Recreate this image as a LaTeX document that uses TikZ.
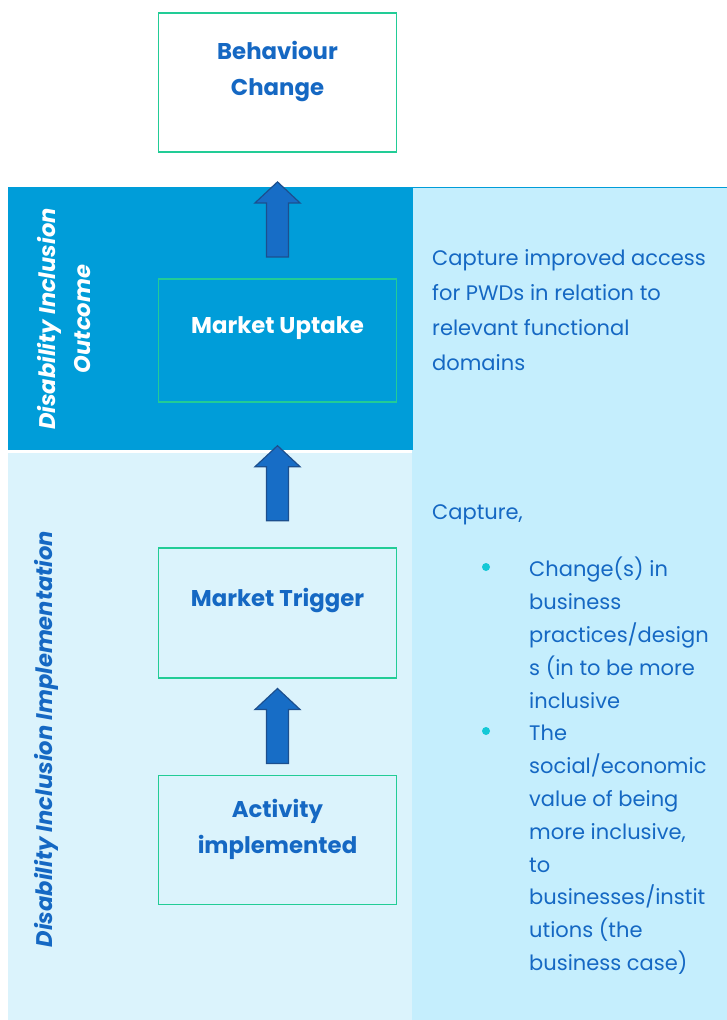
\documentclass[tikz,border=0pt]{standalone}
\usepackage{fontspec}
\setmainfont{Poppins}
\usetikzlibrary{positioning,calc}

\definecolor{bandDark}{HTML}{009DD9}
\definecolor{bandLight}{HTML}{DBF3FC}
\definecolor{panelBlue}{HTML}{C5EEFD}
\definecolor{boxGreen}{HTML}{22CC96}
\definecolor{textBlue}{HTML}{1568C3}
\definecolor{arrowBlue}{HTML}{176DC6}
\definecolor{arrowEdge}{HTML}{1C4F8E}
\definecolor{bulletCyan}{HTML}{14C8D6}

\begin{document}
\begin{tikzpicture}[x=1pt,y=-1pt,
stage/.style={rectangle, draw=boxGreen, line width=1.8pt,
  minimum width=238pt, inner sep=0pt},
stagetext/.style={font=\fontsize{22.8}{36}\selectfont\bfseries,
  text=textBlue, align=center},
sidetext/.style={rotate=90, font=\fontsize{22.6}{35}\selectfont\bfseries\itshape,
  text=white, align=center, inner sep=0pt},
notetext/.style={font=\fontsize{21}{35}\selectfont, text=textBlue,
  align=left, inner sep=0pt, anchor=north west},
bulletdot/.style={circle, fill=bulletCyan, minimum size=8pt, inner sep=0pt},
uparrow/.pic={
  \draw[fill=arrowBlue, draw=arrowEdge, line width=1.2pt]
    (-11,0) -- (-11,-54) -- (-22.5,-54) -- (0,-75)
    -- (22.5,-54) -- (11,-54) -- (11,0) -- cycle;
}]

\useasboundingbox (0,0) rectangle (727,1020);

% bands behind the chain
\fill[bandDark] (8,187) rectangle (412,450);
\fill[bandLight] (8,453) rectangle (412,1020);
\fill[panelBlue] (412,187) rectangle (727,1020);
\draw[bandDark, line width=1pt] (727,187.5) -- (412,187.5) -- (412,450);

% the chain of stages
\node[stage, minimum height=139pt, fill=white,
  label={[stagetext, name=bctxt, yshift=11pt]center:Behaviour\\Change}]
  (bc) at (277.5,82.5) {};

\node[stage, minimum height=123pt, below=125pt of bc,
  label={[stagetext, text=white, name=uptaketxt, yshift=12pt]center:Market Uptake}]
  (uptake) {};

\node[stage, minimum height=130pt, below=144pt of uptake,
  label={[stagetext, name=triggertxt, yshift=12pt]center:Market Trigger}]
  (trigger) {};

\node[stage, minimum height=129pt, below=96pt of trigger,
  label={[stagetext, name=activitytxt, yshift=11pt]center:Activity\\implemented}]
  (activity) {};

\pic at ([yshift=21pt]uptake.north) {uparrow};
\pic at ([yshift=26pt]trigger.north) {uparrow};
\pic at ([yshift=11pt]activity.north) {uparrow};

% band titles
\node[sidetext] (outcome) at (64,319) {Disability Inclusion\\Outcome};
\node[sidetext, text=textBlue] (implementation) at (46,739)
  {Disability Inclusion Implementation};

% notes on the right
\node[notetext] (uptakenote) at (432,249)
  {Capture improved access\\for PWDs in relation to\\relevant functional\\domains};
\node[notetext] (triggernote) at (432,504) {Capture,};
\node[notetext, font=\fontsize{21}{32.8}\selectfont] (triggerlist) at (529,557)
  {Change(s) in\\business\\practices/design\\s (in to be more\\inclusive\\The\\social/economic\\value of being\\more inclusive,\\to\\businesses/instit\\utions (the\\business case)};
\node[bulletdot] (dot1) at (486,567) {};
\node[bulletdot] (dot2) at (486,731) {};

\end{tikzpicture}
\end{document}
